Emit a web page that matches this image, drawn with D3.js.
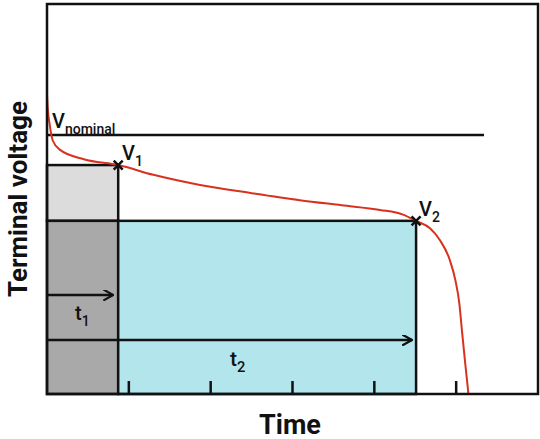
<!DOCTYPE html>
<html><head><meta charset="utf-8">
<script src="https://cdn.jsdelivr.net/npm/d3@7"></script>
<style>body{margin:0;background:#fff}text{font-family:Roboto,"Open Sans",sans-serif}</style>
</head><body><svg id="c" width="540" height="439"></svg>
<script>
const curveX=[0,0.01,0.03,0.07,0.16,0.45,0.87,1.3,1.87,2.5,3.09,3.6,4.07,4.35,4.51,4.68,4.80,4.92,4.99,5.04,5.07,5.11,5.15];
const curveY=[7.67,7.3,6.95,6.5,6.26,6.02,5.87,5.62,5.36,5.15,4.97,4.84,4.72,4.6,4.44,4.25,3.95,3.45,2.92,2.3,1.64,0.8,0];
const vNominal=6.64, vNominalEnd=5.34;
const t1=0.87, v1=5.87, t2=4.51, v2=4.44;
const xTicks=[1,2,3,4,5];
const svg=d3.select("#c");
const x=d3.scaleLinear().domain([0,6]).range([47,538]);
const y=d3.scaleLinear().domain([0,10]).range([394,4]);
svg.append("defs").append("marker").attr("id","ar").attr("viewBox","0 0 10 10").attr("refX",9).attr("refY",5)
 .attr("markerWidth",11).attr("markerHeight",11).attr("markerUnits","userSpaceOnUse").attr("orient","auto")
 .append("path").attr("d","M0,0L9,5L0,10").attr("fill","none").attr("stroke","#111").attr("stroke-width",2);
svg.append("rect").attr("x",x(0)).attr("y",y(v1)).attr("width",x(t1)-x(0)).attr("height",y(v2)-y(v1)).attr("fill","#dcdcdc").attr("stroke","#111").attr("stroke-width",2.5);
svg.append("rect").attr("x",x(0)).attr("y",y(v2)).attr("width",x(t1)-x(0)).attr("height",y(0)-y(v2)).attr("fill","#a9a9a9").attr("stroke","#111").attr("stroke-width",2.5);
svg.append("rect").attr("x",x(t1)).attr("y",y(v2)).attr("width",x(t2)-x(t1)).attr("height",y(0)-y(v2)).attr("fill","#b2e6ec").attr("stroke","#111").attr("stroke-width",2.5);
svg.append("line").attr("x1",x(0)).attr("x2",x(vNominalEnd)).attr("y1",y(vNominal)).attr("y2",y(vNominal)).attr("stroke","#111").attr("stroke-width",2.5);
xTicks.forEach(t=>svg.append("line").attr("x1",x(t)).attr("x2",x(t)).attr("y1",y(0)).attr("y2",y(0)-13).attr("stroke","#111").attr("stroke-width",2.5));
svg.append("path").datum(curveX.map((d,i)=>[d,curveY[i]])).attr("d",d3.line().x(d=>x(d[0])).y(d=>y(d[1])).curve(d3.curveMonotoneX))
 .attr("fill","none").attr("stroke","#d8321f").attr("stroke-width",2);
svg.append("rect").attr("x",x(0)).attr("y",y(10)).attr("width",x(6)-x(0)).attr("height",y(0)-y(10)).attr("fill","none").attr("stroke","#111").attr("stroke-width",2.5);
[[t1,v1],[t2,v2]].forEach(([a,b])=>{const cx=x(a),cy=y(b),s=4.5;
 svg.append("path").attr("d",`M${cx-s},${cy-s}L${cx+s},${cy+s}M${cx-s},${cy+s}L${cx+s},${cy-s}`).attr("stroke","#111").attr("stroke-width",2.5);});
svg.append("line").attr("x1",x(0)).attr("x2",x(t1)-5).attr("y1",295).attr("y2",295).attr("stroke","#111").attr("stroke-width",2.5).attr("marker-end","url(#ar)");
svg.append("line").attr("x1",x(0)).attr("x2",x(t2)-4).attr("y1",340).attr("y2",340).attr("stroke","#111").attr("stroke-width",2.5).attr("marker-end","url(#ar)");
function lab(px,py,main,sub,fs){const t=svg.append("text").attr("x",px).attr("y",py).attr("font-size",fs).attr("font-weight",500).attr("fill","#111").text(main);
 t.append("tspan").attr("font-size",fs*0.7).attr("dy",fs*0.3).text(sub);}
lab(75,320,"t","1",20);lab(230,366,"t","2",21);
lab(52,128,"V","nominal",20);lab(122,160,"V","1",20);lab(419,216,"V","2",20);
svg.append("text").attr("x",290).attr("y",434).attr("text-anchor","middle").attr("font-size",27).attr("font-weight",700).attr("fill","#111").text("Time");
svg.append("text").attr("transform","translate(27,199) rotate(-90)").attr("text-anchor","middle").attr("font-size",26).attr("font-weight",700).attr("fill","#111").text("Terminal voltage");
</script></body></html>
